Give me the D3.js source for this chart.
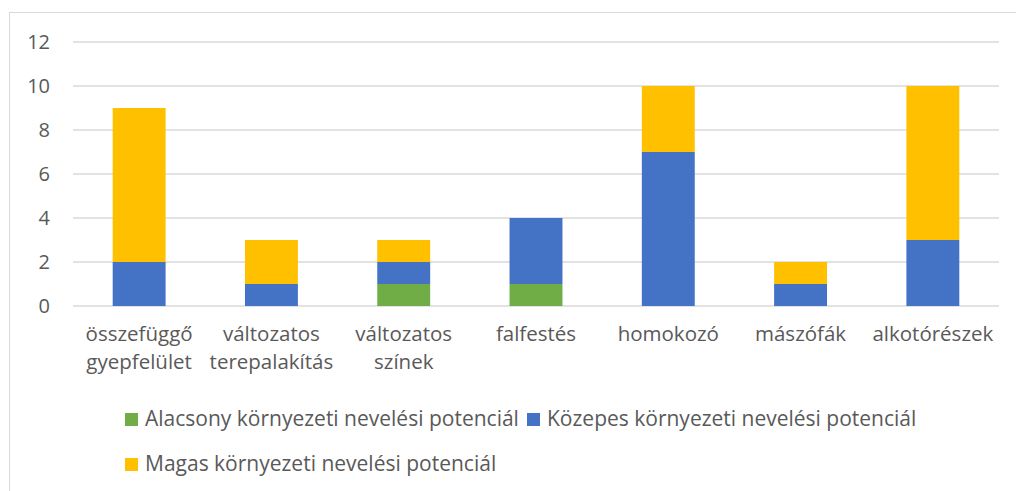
<!DOCTYPE html>
<html><head><meta charset="utf-8">
<script src="https://cdn.jsdelivr.net/npm/d3@7"></script>
<style>body{margin:0;background:#fff}text{font-family:"Open Sans",sans-serif;fill:#595959}</style>
</head><body><svg id="c" width="1016" height="491"></svg>
<script>
const categories = [["összefüggő","gyepfelület"],["változatos","terepalakítás"],["változatos","színek"],["falfestés"],["homokozó"],["mászófák"],["alkotórészek"]];
const seriesNames = ["Alacsony környezeti nevelési potenciál","Közepes környezeti nevelési potenciál","Magas környezeti nevelési potenciál"];
const alacsony = [0,0,1,1,0,0,0];
const kozepes = [2,1,1,3,7,1,3];
const magas = [7,2,1,0,3,1,7];
const yTicks = [0,2,4,6,8,10,12];
const colors = ["#70AD47","#4472C4","#FFC000"];

(function(){
const FS = 21;
const svg = d3.select("#c");
svg.append("rect").attr("x",9.5).attr("y",12.5).attr("width",1020).attr("height",500).attr("fill","none").attr("stroke","#d9d9d9");
const pL=73,pR=999,pT=42,pB=306;
const keys = categories.map((c,i)=>i);
const x = d3.scaleBand().domain(keys).range([pL,pR]).paddingInner(0.6).paddingOuter(0.3);
const y = d3.scaleLinear().domain([0,12]).range([pB,pT]);
svg.append("g").selectAll("line").data(yTicks).join("line").attr("x1",pL).attr("x2",pR)
 .attr("y1",d=>y(d)).attr("y2",d=>y(d)).attr("stroke","#d9d9d9").attr("stroke-width",1.3);
const yAxis = svg.append("g").attr("transform",`translate(${pL},0)`).call(d3.axisLeft(y).tickValues(yTicks).tickSize(0).tickPadding(23));
yAxis.select(".domain").remove();
yAxis.selectAll("text").attr("font-size",20).attr("fill","#595959").attr("font-family","Open Sans, sans-serif");

const data = keys.map(i=>({i, a:alacsony[i], k:kozepes[i], m:magas[i]}));
const stack = d3.stack().keys(["a","k","m"])(data);
svg.append("g").selectAll("g").data(stack).join("g").attr("fill",(d,i)=>colors[i])
 .selectAll("rect").data(d=>d).join("rect")
 .attr("x",d=>x(d.data.i)).attr("width",x.bandwidth())
 .attr("y",d=>y(d[1])).attr("height",d=>y(d[0])-y(d[1]));

const xl = svg.append("g");
categories.forEach((lines,i)=>{
  const cx = x(i)+x.bandwidth()/2;
  lines.forEach((l,j)=>xl.append("text").attr("text-anchor","middle").attr("font-size",20.5)
    .attr("x",cx).attr("y",341+j*28).text(l));
});

const legend = [{x:125,y:419,i:0},{x:527,y:419,i:1},{x:125,y:464,i:2}];
legend.forEach(L=>{
  svg.append("rect").attr("x",L.x).attr("y",L.y-6).attr("width",13).attr("height",13).attr("fill",colors[L.i]);
  svg.append("text").attr("x",L.x+20).attr("y",L.y+7).attr("font-size",FS).text(seriesNames[L.i]);
});
})();
</script></body></html>
